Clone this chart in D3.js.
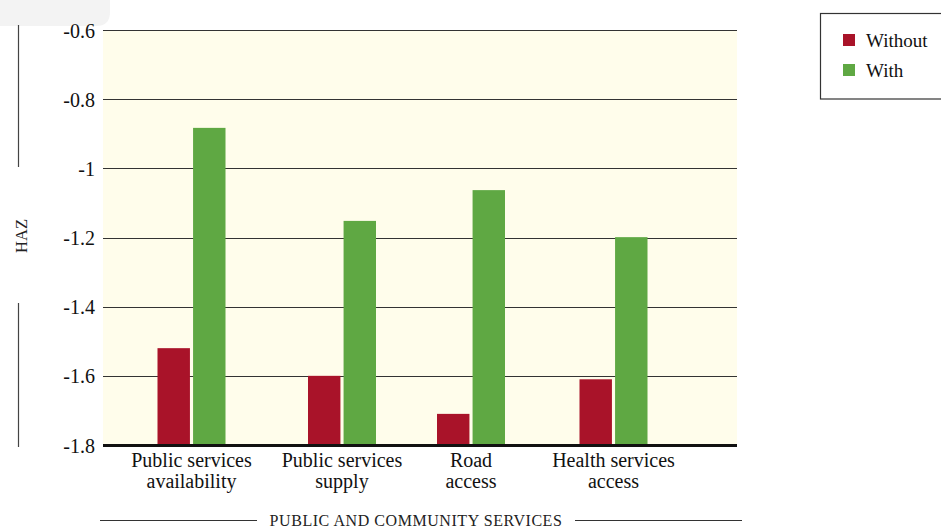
<!DOCTYPE html>
<html><head><meta charset="utf-8">
<script src="https://cdn.jsdelivr.net/npm/d3@7"></script>
<style>
html,body{margin:0;padding:0;background:#fff;}
svg text{font-family:'Liberation Serif','DejaVu Serif',serif !important;}
</style></head>
<body><svg id="c" width="941" height="527"></svg>
<script>
const categories = [["Public services","availability"],["Public services","supply"],["Road","access"],["Health services","access"]];
const seriesNames = ["Without","With"];
const withoutValues = [-1.52, -1.60, -1.71, -1.61];
const withValues = [-0.883, -1.152, -1.063, -1.199];
const yTicks = [-0.6,-0.8,-1,-1.2,-1.4,-1.6,-1.8];
const yTitle = "HAZ";
const xTitle = "PUBLIC AND COMMUNITY SERVICES";

// layout
const plot = {left:103, right:737, top:30, bottom:445};
const groupCenters = [191.5, 342, 471, 613.5];
const barW = 31, barGap = 6;
const colors = {Without:"#A91329", With:"#5FA843"};
const FONT = "'Liberation Serif', serif";

const svg = d3.select("#c");
const catKeys = categories.map(c=>c.join(" "));
const x = d3.scaleOrdinal().domain(catKeys).range(groupCenters);
const xs = d3.scaleBand().domain(seriesNames).range([-(barW+barGap/2), barW+barGap/2]).paddingInner(barGap/(barW*2+barGap));
const y = d3.scaleLinear().domain([-1.8,-0.6]).range([plot.bottom, plot.top]);

// top-left artifact
svg.append("path").attr("d","M0,0 H110 V12 Q110,26 96,26 H0 Z").attr("fill","#f3f3f3");

// background
svg.append("rect").attr("x",plot.left).attr("y",plot.top).attr("width",plot.right-plot.left).attr("height",plot.bottom-plot.top).attr("fill","#FFFDEB");

// gridlines
svg.append("g").selectAll("line").data(yTicks.filter(t=>t!==-1.8)).join("line")
  .attr("x1",plot.left).attr("x2",plot.right).attr("y1",d=>Math.round(y(d))+0.5).attr("y2",d=>Math.round(y(d))+0.5)
  .attr("stroke","#333").attr("stroke-width",1.2);

// bars
const series = [{name:"Without", values:withoutValues},{name:"With", values:withValues}];
series.forEach(s=>{
  svg.append("g").selectAll("rect").data(s.values).join("rect")
    .attr("x",(d,i)=>x(catKeys[i])+xs(s.name))
    .attr("width",xs.bandwidth())
    .attr("y",d=>y(d))
    .attr("height",d=>y(-1.8)-y(d))
    .attr("fill",colors[s.name]);
});

// baseline
svg.append("line").attr("x1",plot.left).attr("x2",plot.right).attr("y1",y(-1.8)+0.5).attr("y2",y(-1.8)+0.5).attr("stroke","#111").attr("stroke-width",3);

// y axis labels
const yAxis = d3.axisLeft(y).tickValues(yTicks).tickFormat(d=>String(d)).tickSize(0).tickPadding(8);
const ya = svg.append("g").attr("transform",`translate(${plot.left},0)`).call(yAxis).attr("font-family",FONT);
ya.select(".domain").remove();
ya.selectAll("text").attr("font-size",20).attr("fill","#111").attr("dy","0.35em");

// x labels
const xl = svg.append("g");
categories.forEach((c,i)=>{
  const t = xl.append("text").attr("x",x(catKeys[i])).attr("y",467).attr("text-anchor","middle").attr("font-size",20).attr("fill","#111");
  c.forEach((line,j)=>t.append("tspan").attr("x",x(catKeys[i])).attr("dy",j?21:0).text(line));
});

// y title
svg.append("text").attr("transform","translate(27,236) rotate(-90)").attr("text-anchor","middle").attr("font-size",16.5).attr("fill","#222").text(yTitle);
svg.append("line").attr("x1",18.5).attr("x2",18.5).attr("y1",25).attr("y2",167).attr("stroke","#444").attr("stroke-width",1.2);
svg.append("line").attr("x1",18.5).attr("x2",18.5).attr("y1",303).attr("y2",447).attr("stroke","#444").attr("stroke-width",1.2);

// x title
svg.append("text").attr("x",416).attr("y",525.5).attr("text-anchor","middle").attr("font-size",16).attr("letter-spacing",0.55).attr("fill","#222").text(xTitle);
svg.append("line").attr("x1",100).attr("x2",257).attr("y1",520.5).attr("y2",520.5).attr("stroke","#333").attr("stroke-width",1.2);
svg.append("line").attr("x1",575).attr("x2",742).attr("y1",520.5).attr("y2",520.5).attr("stroke","#333").attr("stroke-width",1.2);

// legend
const lg = svg.append("g");
lg.append("rect").attr("x",820.5).attr("y",13.5).attr("width",130).attr("height",85.5).attr("fill","#fff").attr("stroke","#333").attr("stroke-width",1.2);
seriesNames.forEach((n,i)=>{
  lg.append("rect").attr("x",843).attr("y",34+i*30).attr("width",12).attr("height",12).attr("fill",colors[n]);
  lg.append("text").attr("x",866).attr("y",47+i*30).attr("font-size",19).attr("fill","#111").text(n);
});
</script></body></html>
